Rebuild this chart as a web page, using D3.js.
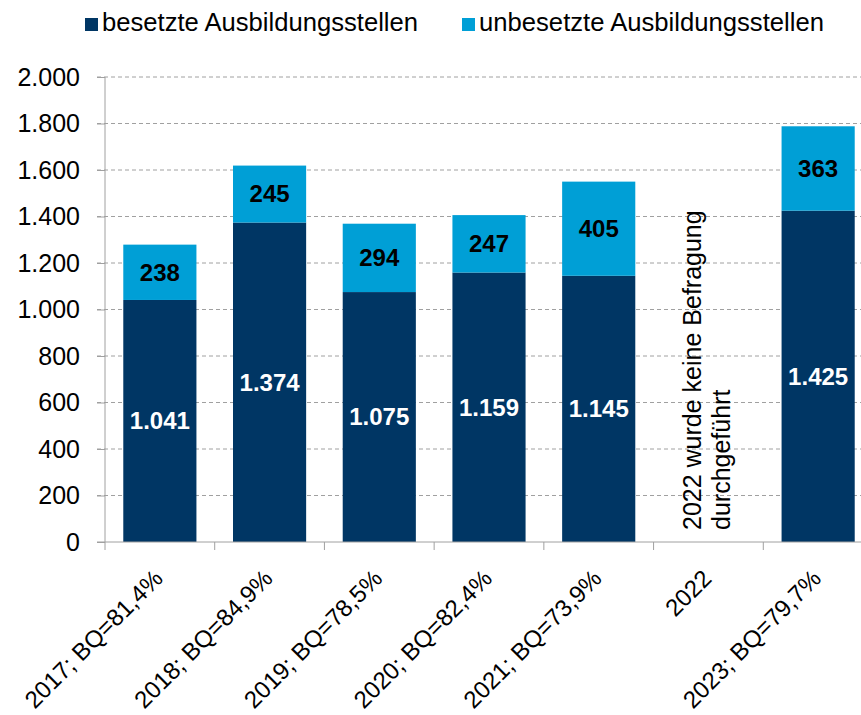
<!DOCTYPE html>
<html>
<head>
<meta charset="utf-8">
<script src="https://d3js.org/d3.v7.min.js"></script>
<style>
  body { margin: 0; background: #fff; }
  svg { display: block; font-family: "Liberation Sans", Arial, sans-serif; }
</style>
</head>
<body>
<svg width="861" height="715"></svg>
<script>
/*Data*/
var categories = ["2017; BQ=81,4%", "2018; BQ=84,9%", "2019; BQ=78,5%", "2020; BQ=82,4%", "2021; BQ=73,9%", "2022", "2023; BQ=79,7%"];
var besetzt = [1041, 1374, 1075, 1159, 1145, null, 1425];
var unbesetzt = [238, 245, 294, 247, 405, null, 363];
var yTicks = [0, 200, 400, 600, 800, 1000, 1200, 1400, 1600, 1800, 2000];
var seriesNames = ["besetzte Ausbildungsstellen", "unbesetzte Ausbildungsstellen"];
var noteLines = ["2022 wurde keine Befragung", "durchgeführt"];

var colors = ["#003664", "#009fd6"];
var fmt = function(v) { return d3.format(",")(v).replace(/,/g, "."); };

var svg = d3.select("svg"),
    plotLeft = 105, plotRight = 873, plotTop = 77, plotBottom = 542;

var x = d3.scaleBand()
    .domain(categories)
    .range([plotLeft, plotRight])
    .paddingInner(1 / 3)
    .paddingOuter(1 / 6);

var y = d3.scaleLinear()
    .domain([0, 2000])
    .range([plotBottom, plotTop]);

/*Dashed gridlines*/
svg.append("g")
  .selectAll("line")
  .data(yTicks.filter(function(d) { return d > 0; }))
  .enter().append("line")
    .attr("x1", plotLeft - 8)
    .attr("x2", 861)
    .attr("y1", function(d) { return y(d); })
    .attr("y2", function(d) { return y(d); })
    .attr("stroke", "#a0a0a0")
    .attr("stroke-width", 1)
    .attr("stroke-dasharray", "4,3");

/*Stacked bars*/
var rows = categories.map(function(c, i) {
  return {cat: c, b: besetzt[i], u: unbesetzt[i]};
}).filter(function(d) { return d.b != null; });

var bars = svg.append("g");

bars.selectAll(".dark")
  .data(rows)
  .enter().append("rect")
    .attr("x", function(d) { return x(d.cat); })
    .attr("width", x.bandwidth())
    .attr("y", function(d) { return y(d.b); })
    .attr("height", function(d) { return y(0) - y(d.b); })
    .attr("fill", colors[0]);

bars.selectAll(".light")
  .data(rows)
  .enter().append("rect")
    .attr("x", function(d) { return x(d.cat); })
    .attr("width", x.bandwidth())
    .attr("y", function(d) { return y(d.b + d.u); })
    .attr("height", function(d) { return y(d.b) - y(d.b + d.u); })
    .attr("fill", colors[1]);

/*Value labels*/
bars.selectAll(".lblDark")
  .data(rows)
  .enter().append("text")
    .attr("x", function(d) { return x(d.cat) + x.bandwidth() / 2; })
    .attr("y", function(d) { return (y(0) + y(d.b)) / 2; })
    .attr("dy", "0.35em")
    .attr("text-anchor", "middle")
    .attr("font-size", 24)
    .attr("font-weight", "bold")
    .attr("fill", "#fff")
    .text(function(d) { return fmt(d.b); });

bars.selectAll(".lblLight")
  .data(rows)
  .enter().append("text")
    .attr("x", function(d) { return x(d.cat) + x.bandwidth() / 2; })
    .attr("y", function(d) { return (y(d.b) + y(d.b + d.u)) / 2; })
    .attr("dy", "0.35em")
    .attr("text-anchor", "middle")
    .attr("font-size", 24)
    .attr("font-weight", "bold")
    .attr("fill", "#000")
    .text(function(d) { return fmt(d.u); });

/*Y axis*/
var yAxis = svg.append("g")
    .attr("transform", "translate(" + plotLeft + ",0)")
    .call(d3.axisLeft(y).tickValues(yTicks).tickSize(8).tickPadding(17).tickFormat(fmt));
yAxis.select(".domain").attr("stroke", "#a0a0a0").attr("d", "M0," + plotTop + "V" + plotBottom);
yAxis.selectAll(".tick line").attr("stroke", "#a0a0a0");
yAxis.selectAll(".tick text").attr("font-size", 25).attr("font-family", "Liberation Sans, Arial, sans-serif").attr("fill", "#000");

/*X axis: ticks between the categories*/
var xEdges = categories.map(function(c) { return x(c) - x.step() * x.paddingInner() / 2; });
xEdges.push(plotRight);
svg.append("line")
    .attr("x1", plotLeft - 8).attr("x2", 861)
    .attr("y1", plotBottom).attr("y2", plotBottom)
    .attr("stroke", "#a0a0a0");
svg.append("g")
  .selectAll("line")
  .data(xEdges)
  .enter().append("line")
    .attr("x1", function(d) { return d; })
    .attr("x2", function(d) { return d; })
    .attr("y1", plotBottom)
    .attr("y2", plotBottom + 8)
    .attr("stroke", "#a0a0a0");

/*Rotated category labels*/
svg.append("g")
  .selectAll("text")
  .data(categories)
  .enter().append("text")
    .attr("transform", function(d) {
      return "translate(" + (x(d) + x.bandwidth() / 2 + 4.5) + "," + (plotBottom + 38) + ") rotate(-45)";
    })
    .attr("text-anchor", "end")
    .attr("font-size", 24)
    .attr("fill", "#000")
    .text(function(d) { return d; });

/*Note for 2022*/
var noteX = x("2022") + x.bandwidth() / 2;
svg.append("g")
  .selectAll("text")
  .data(noteLines)
  .enter().append("text")
    .attr("transform", function(d, i) {
      return "translate(" + (noteX - 7 + i * 29) + ",530) rotate(-90)";
    })
    .attr("font-size", 25)
    .attr("fill", "#000")
    .text(function(d) { return d; });

/*Legend*/
var legendX = [85, 462];
var legendLen = [316, 345];
var legend = svg.append("g")
  .selectAll("g")
  .data(seriesNames)
  .enter().append("g")
    .attr("transform", function(d, i) { return "translate(" + legendX[i] + ",0)"; });
legend.append("rect")
    .attr("y", 18)
    .attr("width", 13)
    .attr("height", 13)
    .attr("fill", function(d, i) { return colors[i]; });
legend.append("text")
    .attr("x", 17)
    .attr("y", 31)
    .attr("font-size", 25)
    .attr("textLength", function(d, i) { return legendLen[i]; })
    .attr("lengthAdjust", "spacingAndGlyphs")
    .attr("fill", "#000")
    .text(function(d) { return d; });
</script>
</body>
</html>
